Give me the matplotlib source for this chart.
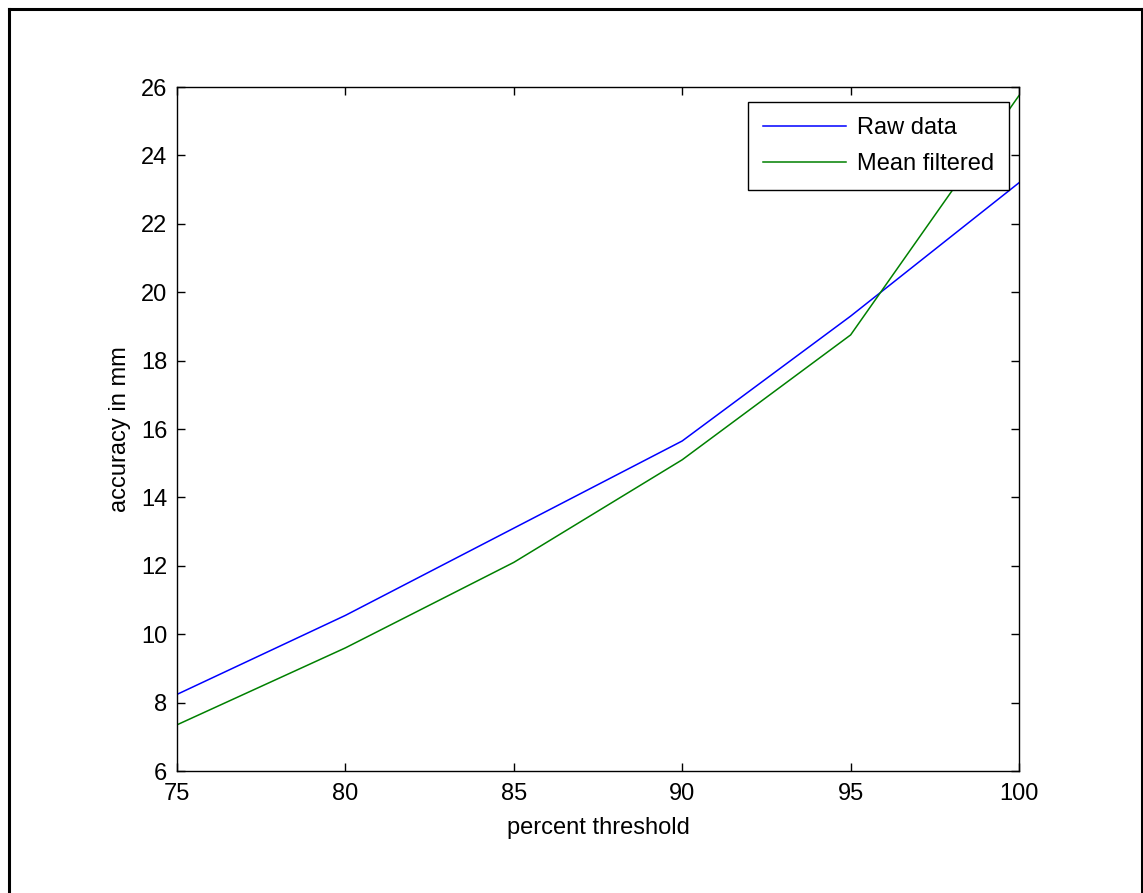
import matplotlib
matplotlib.use("Agg")
import matplotlib.pyplot as plt
from matplotlib.lines import Line2D

threshold = [75, 80, 85, 90, 95, 100]
raw_data = [8.24, 10.55, 13.1, 15.65, 19.3, 23.2]
mean_filtered = [7.35, 9.6, 12.1, 15.1, 18.75, 25.75]
xticks = [75, 80, 85, 90, 95, 100]
yticks = [6, 8, 10, 12, 14, 16, 18, 20, 22, 24, 26]

plt.rcParams['font.family'] = ['Liberation Sans', 'DejaVu Sans']
fs = 17

fig = plt.figure(figsize=(11.43, 8.93), dpi=100)
W, H = 1143, 893
ax = fig.add_axes([177 / W, (H - 771) / H, (1019 - 177) / W, (771 - 87) / H])

ax.plot(threshold, raw_data, color=(0, 0, 1), lw=1.1, label='Raw data')
ax.plot(threshold, mean_filtered, color=(0, 0.5, 0), lw=1.1, label='Mean filtered')

ax.set_xlim(75, 100)
ax.set_ylim(6, 26)
ax.set_xticks(xticks)
ax.set_yticks(yticks)
ax.tick_params(direction='in', length=6, width=1.0, top=True, right=True,
               labelsize=fs, colors='black')
ax.tick_params(axis='x', pad=9)
ax.tick_params(axis='y', pad=7)
for s in ax.spines.values():
    s.set_linewidth(1.0)
    s.set_color('black')

ax.set_xlabel('percent threshold', fontsize=fs, labelpad=8)
ax.set_ylabel('accuracy in mm', fontsize=fs, labelpad=7)

leg = ax.legend(loc='upper right', bbox_to_anchor=((1009 - 177) / 842, (771 - 102) / 684),
                borderaxespad=0, fontsize=fs, fancybox=False, shadow=False,
                framealpha=1, edgecolor='black', handlelength=3.5,
                borderpad=0.65, labelspacing=0.58, handletextpad=0.45)
leg.get_frame().set_linewidth(1.0)

# outer figure border (left, top, right)
for xs, ys in [([8.5 / W, 8.5 / W], [0, 1 - 8.5 / H]),
               ([8.5 / W, 1 - 1.5 / W], [1 - 8.5 / H, 1 - 8.5 / H]),
               ([1 - 1.5 / W, 1 - 1.5 / W], [1 - 8.5 / H, 0])]:
    fig.add_artist(Line2D(xs, ys, transform=fig.transFigure, color='black', lw=2.2))

fig.savefig('out.png', dpi=100, facecolor='white')
